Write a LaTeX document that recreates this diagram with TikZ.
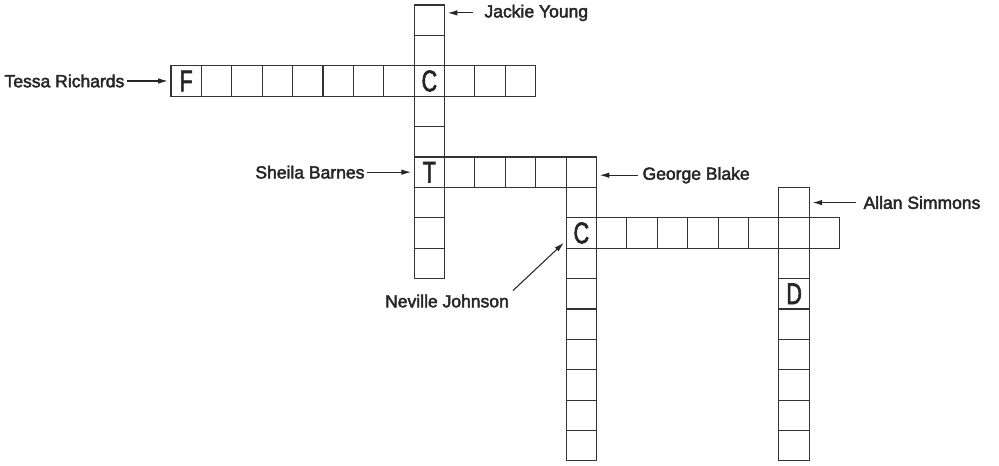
\documentclass[tikz,border=0pt]{standalone}
\usepackage{fontspec}
\setsansfont{Liberation Sans}
\newfontfamily\labelfont[FakeBold=2.5]{Liberation Sans}
\usetikzlibrary{arrows.meta}
\tikzset{
  cell/.style={draw=black!80, line width=0.5pt, minimum size=0.5cm, inner sep=0pt, outer sep=0pt},
  letter/.style={font=\labelfont\fontsize{14}{15}\selectfont, text=black!85, inner sep=0pt},
  lbl/.style={font=\labelfont\fontsize{8.2}{10}\selectfont, text=black!85, inner sep=1pt},
  ptr/.style={-{Latex[length=4.5pt,width=2.6pt]}, line width=0.5pt, draw=black!85, shorten >=1.5pt}
}
\newcommand{\narrow}[1]{\scalebox{0.72}[1]{#1}}

\begin{document}
\begin{tikzpicture}[x=0.5cm, y=-0.5cm]
  \useasboundingbox (-5.625,-0.164) rectangle (27.24,15.164);
  % the six words
  \foreach \i in {0,...,11} \node[cell] (tr\i) at (\i+0.5,2.5) {};
  \foreach \i in {0,...,8} \node[cell] (jy\i) at (8.5,\i+0.5) {};
  \foreach \i in {0,...,5} \node[cell] (sb\i) at (\i+8.5,5.5) {};
  \foreach \i in {0,...,9} \node[cell] (gb\i) at (13.5,\i+5.5) {};
  \foreach \i in {0,...,8} \node[cell] (nj\i) at (\i+13.5,7.5) {};
  \foreach \i in {0,...,8} \node[cell] (as\i) at (20.5,\i+6.5) {};
  % given letters
  \node[letter] (lF) at (tr0) {\narrow{F}};
  \node[letter] (lC1) at (tr8) {\narrow{C}};
  \node[letter] (lT) at (sb0) {\narrow{T}};
  \node[letter] (lC2) at (nj0) {\narrow{C}};
  \node[letter] (lD) at (as3) {\narrow{D}};
  % names
  \node[lbl, anchor=east] (tessa) at (-1.45,2.5) {Tessa Richards};
  \node[lbl, anchor=west] (jackie) at (10.23,0.26) {Jackie Young};
  \node[lbl, anchor=east] (sheila) at (6.45,5.5) {Sheila Barnes};
  \node[lbl, anchor=west] (george) at (15.43,5.6) {George Blake};
  \node[lbl, anchor=west] (allan) at (22.7,6.5) {Allan Simmons};
  \node[lbl] (neville) at (9.08,9.74) {Neville Johnson};
  \draw[ptr] (tessa) -- (tr0);
  \draw[ptr, shorten <=4pt] (jackie) -- (jackie -| jy0.east);
  \draw[ptr] (sheila) -- (sb0);
  \draw[ptr, shorten <=1pt] (george) -- (george -| sb5.east);
  \draw[ptr, shorten <=2.5pt] (allan) -- (as0);
  \draw[ptr, shorten <=1pt] (neville.north east) -- ([yshift=-0.125cm]nj0.west);
\end{tikzpicture}
\end{document}
